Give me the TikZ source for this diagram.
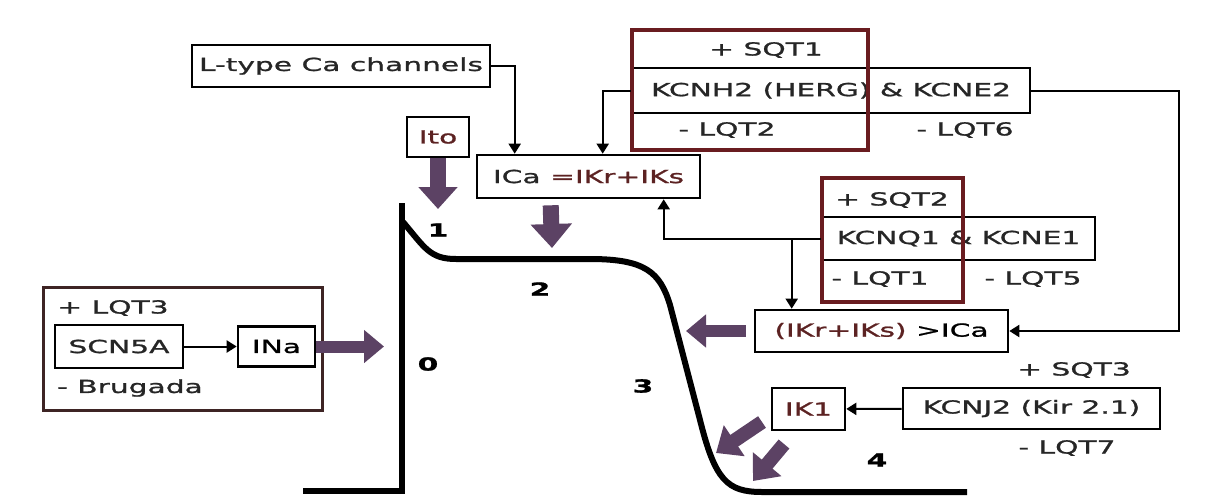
\documentclass[tikz,border=0pt]{standalone}
\usepackage{fontspec}
\setmainfont{DejaVu Sans}[FakeStretch=1.65,FakeBold=1.2]
\usetikzlibrary{arrows.meta}
\definecolor{FatPurple}{RGB}{92,66,100}
\definecolor{GeneRed}{RGB}{105,28,32}
\definecolor{OuterBrown}{RGB}{62,36,36}
\definecolor{InkGray}{RGB}{38,38,38}
\definecolor{CurrRed}{RGB}{92,34,34}
\tikzset{
	box/.style={draw=black,line width=1.3pt,fill=white,inner sep=0pt,
		font=\fontsize{9}{10}\selectfont,text=InkGray},
	grp/.style={draw=GeneRed,line width=1.6pt,inner sep=0pt},
	lbl/.style={inner sep=0pt,font=\fontsize{9}{10}\selectfont,text=InkGray},
	num/.style={inner sep=0pt,font=\fontsize{9}{10}\selectfont\bfseries,text=black},
	link/.style={draw=black,line width=1pt,-{Triangle[width=6pt,length=5pt]}},
	fat/.style={draw=FatPurple,line width=7pt,-{Triangle[width=18pt,length=11pt]}},
	ap/.style={draw=black,line width=3pt},
}

\begin{document}
\begin{tikzpicture}[x=0.5pt,y=-0.5pt]
	\useasboundingbox (0,0) rectangle (1220,503);
	% action potential
	\draw[ap] (402,203) -- (402,491) -- (303,491);
	\draw[ap] (403,222) .. controls (425,248) and (430,259) .. (456,259) -- (590,259)
		.. controls (645,259) and (660,272) .. (670,305) -- (700,420)
		.. controls (715,480) and (727,492) .. (762,492) -- (967,492);
	\node[num] (ph1) at (438,230) {1};
	\node[num] (ph2) at (540,289) {2};
	\node[num] (ph0) at (428,364) {0};
	\node[num] (ph3) at (643,386) {3};
	\node[num] (ph4) at (877,460) {4};

	% sodium
	\node[draw=OuterBrown,line width=1.5pt,minimum width=139.5pt,minimum height=61.5pt] (nagrp) at (182.5,348.5) {};
	\node[lbl] (lqt3) at (113,308) {+ LQT3};
	\node[box,minimum width=64pt,minimum height=21.5pt] (scn5a) at (119,346.5) {SCN5A};
	\node[box,minimum width=38.5pt,minimum height=20pt,text=black] (ina) at (276.5,346.5) {INa};
	\node[lbl] (brugada) at (130,388) {- Brugada};
	\draw[link] (scn5a) -- (ina);

	% calcium and transient outward
	\node[box,minimum width=149pt,minimum height=21pt] (ltype) at (341,66) {L-type Ca channels};
	\node[box,minimum width=31pt,minimum height=20pt,text=CurrRed] (ito) at (438,137) {Ito};
	\node[box,minimum width=111.5pt,minimum height=21.5pt] (ica) at (588.5,176.5) {ICa \textcolor{CurrRed}{=IKr+IKs}};

	% HERG
	\node[box,minimum width=199pt,minimum height=22.5pt] (kcnh2) at (831,90.5) {KCNH2 (HERG) \& KCNE2};
	\node[grp,minimum width=118pt,minimum height=60pt] (sqt1grp) at (750,90) {};
	\node[lbl] (sqt1) at (766,50) {+ SQT1};
	\node[lbl] (lqt2) at (727,130) {- LQT2};
	\node[lbl] (lqt6) at (965,130) {- LQT6};

	% KvLQT1
	\node[box,minimum width=136.5pt,minimum height=21.5pt] (kcnq1) at (958.5,238.5) {KCNQ1 \& KCNE1};
	\node[grp,minimum width=70.5pt,minimum height=62pt] (sqt2grp) at (892.5,240) {};
	\node[lbl] (sqt2) at (892,200) {+ SQT2};
	\node[lbl] (lqt1) at (880,279) {- LQT1};
	\node[lbl] (lqt5) at (1033,279) {- LQT5};

	\node[box,minimum width=126.5pt,minimum height=21pt,text=black] (ikbox) at (881.5,331) {\textcolor{CurrRed}{(IKr+IKs)} >ICa};

	% inward rectifier
	\node[box,minimum width=36.5pt,minimum height=21pt,text=CurrRed] (ik1) at (808.5,409) {IK1};
	\node[box,minimum width=128.5pt,minimum height=20.5pt] (kcnj2) at (1031.5,408.5) {KCNJ2 (Kir 2.1)};
	\node[lbl] (sqt3) at (1074,370) {+ SQT3};
	\node[lbl] (lqt7) at (1067,448) {- LQT7};

	% connectors
	\draw[link] (ltype.east) -| ([xshift=19.5pt]ica.north west);
	\draw[link] (kcnh2.west) -| ([xshift=63.5pt]ica.north west);
	\draw[link] (kcnh2.east) -- ++(148,0) |- (ikbox.east);
	\draw[link] (kcnq1.west) -| ([xshift=94pt]ica.south west);
	\coordinate (kqdrop) at ([xshift=19pt]ikbox.north west);
	\draw[link] (kqdrop |- kcnq1.west) -- (kqdrop);
	\draw[link] (kcnj2) -- (ik1);

	% current arrows
	\coordinate (inatip) at (384,346.5);
	\coordinate (itotip) at (438,209);
	\coordinate (icatop) at ([xshift=37.5pt,yshift=-3pt]ica.south west);
	\coordinate (icatip) at (552,248);
	\coordinate (iktip) at (686,331);
	\coordinate (ikatail) at (762,422);
	\coordinate (ikatip) at (716,453);
	\coordinate (ikbtail) at (784,444);
	\coordinate (ikbtip) at (753,481);
	\draw[fat,line width=6pt,-{Triangle[width=16pt,length=10pt]}] (ina.east) -- (inatip);
	\draw[fat,line width=8pt,-{Triangle[width=19pt,length=11pt]}] (ito.south) -- ++(0,8) -- (itotip);
	\draw[fat,line width=8pt,-{Triangle[width=20pt,length=12pt]}] (icatop) -- (icatip);
	\draw[fat,line width=6pt,-{Triangle[width=16pt,length=10pt]}] (ikbox.west) ++(-8,0) -- (iktip);
	\draw[fat] (ikatail) -- (ikatip);
	\draw[fat] (ikbtail) -- (ikbtip);
\end{tikzpicture}
\end{document}
